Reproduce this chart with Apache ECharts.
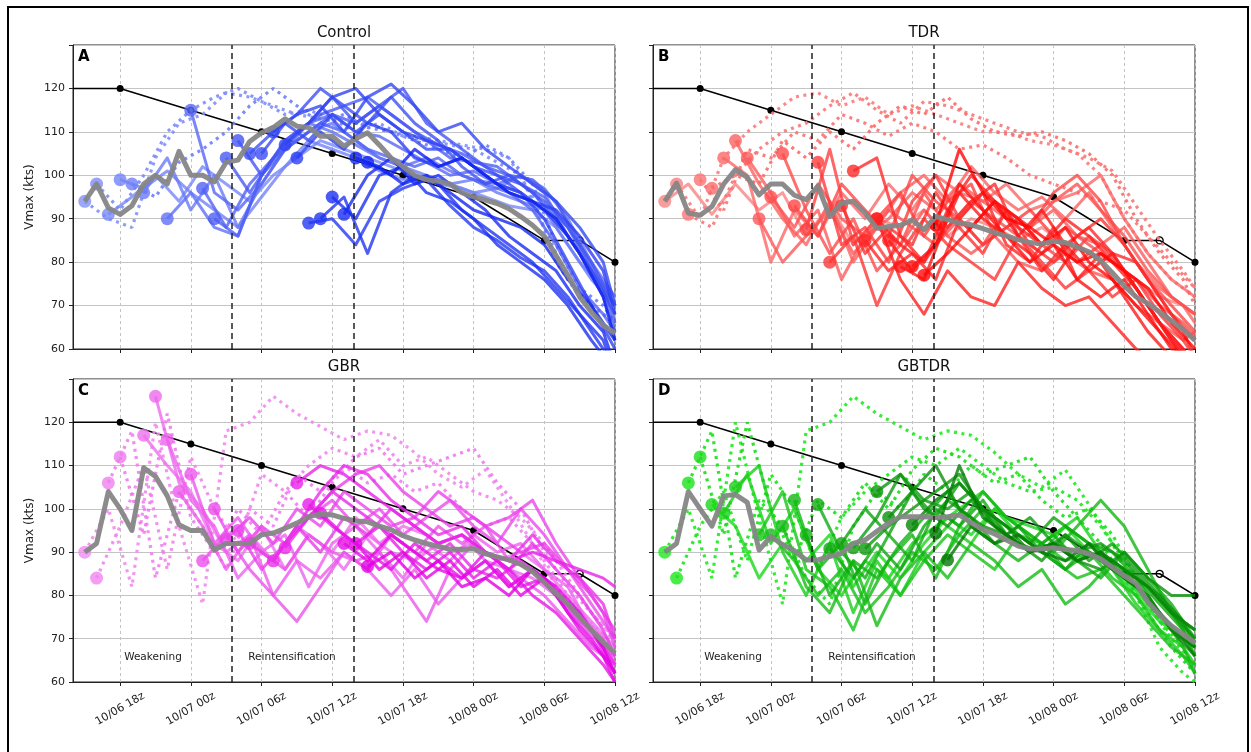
<!DOCTYPE html>
<html>
<head>
<meta charset="utf-8">
<title>Vmax ensembles</title>
<script src="https://cdn.jsdelivr.net/npm/echarts@6/dist/echarts.min.js"></script>
<style>
    html, body { margin: 0; padding: 0; background: #fff; }
    #chart { width: 1251px; height: 752px; }
</style>
</head>
<body>
<div id="chart"></div>
<script>
// all times are hours since 10/06 00z
var tickHours = [18, 24, 30, 36, 42, 48, 54, 60];
var tickLabels = ['10/06 18z', '10/07 00z', '10/07 06z', '10/07 12z', '10/07 18z', '10/08 00z', '10/08 06z', '10/08 12z'];
var phaseHours = [27.5, 37.8];

// best track
var bestHours = [14, 18, 24, 30, 36, 42, 48, 54, 57, 60];
var bestVmax = [120, 120, 115, 110, 105, 100, 95, 85, 85, 80];

// ensemble mean (hourly)
var meanHours = [15, 16, 17, 18, 19, 20, 21, 22, 23, 24, 25, 26, 27, 28, 29, 30, 31, 32, 33, 34, 35, 36, 37, 38, 39, 40,
    41, 42, 43, 44, 45, 46, 47, 48, 49, 50, 51, 52, 53, 54, 55, 56, 57, 58, 59, 60];
var controlMean = [94, 98, 92.5, 91, 93, 98, 100, 98, 105.5, 100, 100, 98.5, 103, 103.5, 107.8, 109.8, 111, 113, 111.3, 111,
    109, 109, 106.7, 108.4, 109.8, 107, 104, 102, 100, 99, 98.6, 98, 96, 95, 94.3, 93.5, 92.3, 90.5, 88.5, 86,
    81.5, 77, 72, 68.5, 65.5, 63.6];
var tdrMean = [94, 98.2, 91.3, 90.8, 92.8, 98, 101.3, 99.5, 95.5, 98, 98, 95.4, 94.4, 97.5, 90.5, 93.6, 94, 91.3, 87.8, 88.2,
    88.5, 89.7, 87.5, 90.5, 89.8, 89, 88.6, 87.7, 86.8, 86, 85.2, 84.5, 84.2, 84.8, 84.5, 83.5, 82.4, 80.3, 77.5, 74.5,
    72, 70.5, 68.5, 66.5, 64.5, 62];
var gbrMean = [90, 92, 104, 100, 95, 109.5, 107.5, 103, 96.3, 95, 95, 90.5, 92, 92, 92, 94, 94.4, 95.5, 96.7, 98.2,
    98.8, 98.6, 97.8, 97.2, 97, 96, 95.2, 93.8, 92.8, 92, 91.3, 90.7, 90.6, 90.8, 89.6, 88.9, 88.2, 87.2, 85.5, 83,
    80.5, 78, 75, 72, 69.2, 66.7];
var gbtdrMean = [90, 92, 104, 100, 96, 103, 103.3, 101.5, 90.5, 93.6, 91.7, 90.3, 88.2, 88.2, 89, 89.7, 92, 92.8, 94.8, 96.7,
    98.2, 98.2, 98.2, 98, 98.2, 98.6, 96.8, 95.3, 94.2, 92.8, 91.4, 90.7, 90.8, 91, 90.6, 90.4, 89.6, 88.4, 86.5, 84.5,
    82.8, 78.5, 75.5, 73, 71, 69];

// members: init hour, dotted flag, Vmax every 2 h from init (last one at 10/08 12z)
var controlStarts = [15, 16, 17, 18, 19, 20, 22, 24, 25, 26, 27, 28, 29, 30, 31, 32, 33, 34, 35, 36, 37, 38, 39];
var controlDotted = [1, 1, 0, 0, 1, 0, 0, 0, 0, 0, 0, 0, 0, 0, 0, 0, 0, 0, 0, 0, 0, 0, 0];
var controlMembers = [
    [94, 90, 88, 104, 112, 114, 119, 118, 116, 114, 113, 112, 112, 110, 109, 108, 107, 106, 104, 95, 80, 72, 68, 66],
    [98, 92, 100, 110, 115, 118, 120, 117, 114, 115, 113, 110, 112, 109, 108, 107, 106, 103, 100, 88, 76, 70, 66],
    [91, 95, 100, 94, 102, 98, 94, 100, 104, 108, 106, 104, 102, 100, 98, 97, 95, 93, 92, 88, 80, 74, 70],
    [99, 97, 101, 96, 92, 88, 95, 102, 108, 106, 104, 101, 99, 100, 98, 96, 97, 100, 96, 86, 78, 72],
    [98, 95, 103, 106, 110, 116, 120, 116, 112, 114, 111, 110, 108, 106, 104, 107, 104, 98, 84, 74, 70, 66],
    [96, 104, 92, 100, 88, 98, 106, 110, 112, 108, 104, 102, 100, 98, 99, 96, 94, 92, 84, 76, 70],
    [90, 96, 88, 86, 100, 108, 112, 110, 107, 104, 102, 104, 101, 99, 98, 100, 97, 90, 80, 72],
    [115, 96, 92, 98, 106, 112, 114, 110, 109, 106, 103, 100, 101, 98, 96, 92, 86, 78, 70],
    [97, 88, 98, 104, 108, 112, 110, 106, 104, 102, 104, 100, 98, 96, 92, 84, 74, 68, 64],
    [90, 86, 100, 106, 110, 114, 112, 116, 112, 108, 104, 103, 102, 98, 95, 88, 78, 70],
    [104, 96, 104, 110, 114, 116, 118, 114, 110, 107, 105, 102, 100, 99, 94, 84, 74, 66],
    [108, 100, 108, 112, 118, 112, 116, 120, 112, 108, 104, 100, 98, 94, 88, 80, 70],
    [105, 110, 114, 120, 116, 112, 118, 112, 108, 102, 98, 100, 96, 90, 82, 72, 64],
    [105, 112, 108, 114, 110, 114, 110, 106, 106, 102, 100, 96, 92, 86, 78, 68],
    [110, 114, 116, 110, 118, 121, 116, 110, 112, 106, 102, 98, 94, 88, 80, 70],
    [107, 112, 118, 120, 114, 110, 108, 106, 102, 98, 96, 90, 80, 70, 60],
    [104, 110, 106, 112, 110, 104, 102, 104, 100, 96, 94, 92, 86, 78, 68],
    [89, 90, 84, 94, 97, 99, 93, 88, 85, 81, 78, 72, 64, 56],
    [90, 95, 82, 96, 100, 98, 92, 88, 84, 80, 74, 68, 62, 54],
    [95, 90, 100, 102, 96, 94, 90, 84, 80, 76, 70, 62, 55],
    [91, 100, 104, 98, 100, 96, 92, 86, 82, 78, 70, 64, 56],
    [104, 102, 98, 100, 96, 92, 90, 88, 84, 76, 70, 62],
    [103, 100, 106, 102, 104, 100, 96, 94, 90, 82, 72, 62]
];

var tdrStarts = [15, 16, 17, 18, 19, 20, 21, 22, 23, 24, 25, 26, 27, 28, 29, 30, 31, 32, 33, 33, 34, 35, 36, 37, 38];
var tdrDotted = [0, 1, 1, 1, 1, 0, 0, 0, 0, 0, 0, 0, 0, 0, 0, 0, 0, 0, 0, 0, 0, 0, 0, 0, 0];
var tdrMembers = [
    [94, 98, 91, 98, 92, 96, 86, 93, 84, 90, 88, 92, 86, 90, 88, 85, 88, 84, 82, 80, 76, 72, 70, 68],
    [98, 90, 104, 110, 114, 118, 119, 116, 118, 114, 116, 114, 112, 110, 110, 108, 107, 105, 100, 90, 82, 76, 72],
    [91, 88, 100, 106, 110, 112, 116, 119, 115, 112, 117, 116, 114, 112, 110, 109, 106, 104, 101, 93, 85, 78, 74],
    [99, 92, 106, 104, 110, 108, 114, 112, 109, 112, 110, 106, 107, 104, 100, 98, 96, 94, 92, 86, 80, 74],
    [97, 100, 98, 108, 104, 110, 106, 112, 116, 114, 118, 113, 110, 109, 110, 108, 105, 100, 90, 82, 76, 70],
    [104, 100, 80, 92, 86, 96, 90, 98, 92, 100, 96, 94, 98, 92, 94, 96, 100, 90, 82, 76, 72],
    [108, 98, 90, 84, 94, 80, 88, 96, 100, 94, 102, 96, 92, 95, 90, 96, 88, 80, 74, 70, 66],
    [104, 96, 86, 92, 76, 86, 90, 96, 92, 98, 94, 90, 88, 92, 86, 84, 88, 80, 72, 68],
    [90, 80, 86, 92, 82, 88, 84, 92, 86, 82, 86, 80, 78, 82, 78, 76, 70, 66, 62, 64],
    [95, 88, 98, 90, 86, 92, 88, 84, 90, 96, 92, 88, 94, 98, 92, 86, 78, 72, 68],
    [105, 92, 82, 90, 78, 84, 96, 88, 94, 90, 86, 82, 88, 84, 80, 76, 70, 66, 63],
    [93, 86, 98, 92, 86, 100, 94, 90, 84, 92, 88, 96, 100, 94, 84, 76, 70, 64],
    [87.5, 106, 84, 90, 96, 86, 94, 98, 86, 90, 84, 80, 86, 82, 74, 66, 60, 56],
    [103, 84, 88, 80, 94, 100, 90, 84, 88, 92, 86, 80, 84, 78, 70, 62, 56],
    [80, 86, 70, 82, 90, 84, 80, 76, 86, 80, 74, 78, 72, 76, 68, 62, 58],
    [93, 82, 88, 84, 96, 88, 82, 92, 84, 80, 86, 90, 84, 76, 68, 62],
    [101, 104, 86, 80, 88, 94, 98, 86, 78, 84, 88, 82, 80, 72, 64, 58],
    [85, 78, 82, 76, 90, 96, 84, 80, 88, 76, 82, 78, 70, 62, 56],
    [90, 84, 80, 92, 100, 94, 88, 84, 90, 86, 80, 74, 66, 58, 54],
    [90, 76, 68, 78, 72, 70, 80, 74, 70, 72, 66, 60, 56, 52, 50],
    [85, 78, 84, 96, 90, 86, 82, 76, 84, 80, 72, 64, 58, 54],
    [79, 76, 90, 88, 94, 86, 92, 84, 78, 82, 74, 66, 60, 56],
    [79, 84, 98, 92, 86, 80, 84, 76, 72, 76, 68, 60, 56],
    [77, 82, 88, 94, 90, 84, 88, 80, 76, 70, 64, 58, 54],
    [88.6, 106, 96, 90, 88, 84, 80, 82, 78, 74, 66, 60]
];

var gbrStarts = [15, 16, 17, 18, 20, 21, 22, 23, 24, 25, 26, 27, 28, 29, 31, 32, 33, 34, 35, 37, 38, 39];
var gbrDotted = [1, 1, 1, 1, 0, 0, 0, 0, 0, 0, 0, 0, 0, 0, 0, 0, 0, 0, 0, 0, 0, 0];
var gbrMembers = [
    [90, 100, 82, 120, 96, 78, 118, 120, 126, 122, 119, 116, 118, 117, 113, 108, 105, 109, 101, 92, 82, 76, 71, 70],
    [84, 96, 110, 86, 112, 100, 92, 108, 104, 110, 114, 112, 116, 110, 112, 108, 104, 102, 98, 92, 84, 76, 70],
    [106, 118, 84, 104, 96, 86, 100, 96, 108, 104, 110, 106, 108, 104, 106, 100, 96, 98, 92, 84, 76, 70, 66],
    [112, 94, 122, 98, 90, 100, 94, 104, 98, 106, 112, 114, 108, 110, 112, 114, 106, 100, 90, 82, 76, 70],
    [117, 110, 104, 92, 88, 96, 86, 94, 90, 98, 92, 96, 94, 90, 92, 88, 90, 86, 80, 74, 68],
    [126, 106, 100, 90, 94, 88, 96, 92, 86, 94, 90, 88, 92, 94, 88, 86, 84, 80, 76, 70, 64],
    [116, 102, 96, 84, 90, 94, 82, 92, 96, 90, 84, 92, 88, 94, 90, 92, 86, 82, 72, 66],
    [104, 96, 86, 94, 80, 88, 84, 90, 86, 80, 86, 78, 84, 88, 82, 86, 80, 74, 70, 64],
    [108, 92, 98, 90, 86, 94, 90, 88, 90, 82, 74, 86, 92, 88, 84, 80, 74, 68, 64],
    [88, 94, 86, 80, 74, 82, 90, 86, 94, 90, 96, 92, 96, 88, 86, 80, 74, 68, 66],
    [100, 90, 96, 92, 98, 102, 96, 100, 94, 98, 102, 96, 92, 100, 94, 86, 78, 70],
    [93, 98, 92, 100, 96, 104, 100, 96, 98, 104, 100, 96, 98, 102, 92, 84, 76, 68],
    [95, 86, 92, 98, 104, 108, 110, 104, 100, 96, 98, 94, 90, 92, 86, 80, 72],
    [92, 88, 96, 90, 98, 94, 100, 96, 92, 94, 90, 86, 92, 86, 80, 72, 66],
    [88, 96, 104, 110, 108, 102, 98, 94, 96, 90, 88, 94, 88, 84, 78, 70],
    [91, 98, 104, 100, 96, 92, 88, 92, 86, 84, 88, 84, 78, 72, 64],
    [106, 110, 108, 104, 100, 96, 92, 94, 90, 88, 90, 88, 86, 84, 82],
    [101, 96, 92, 96, 90, 86, 90, 84, 88, 82, 84, 78, 72, 62],
    [99, 94, 90, 86, 92, 88, 84, 90, 86, 80, 76, 70, 64, 60],
    [92, 88, 94, 90, 86, 84, 88, 82, 86, 80, 72, 66, 60],
    [92, 86, 90, 84, 88, 82, 86, 80, 84, 76, 70, 62],
    [86.7, 90, 84, 88, 82, 84, 80, 86, 82, 76, 68, 62]
];

var gbtdrStarts = [15, 16, 17, 18, 19, 20, 21, 23, 24, 25, 26, 27, 28, 29, 30, 31, 32, 33, 34, 36, 38, 39];
var gbtdrDotted = [1, 1, 1, 1, 0, 0, 0, 0, 0, 0, 0, 0, 0, 0, 0, 0, 0, 0, 0, 0, 0, 0];
var gbtdrMembers = [
    [90, 100, 84, 120, 98, 78, 118, 120, 126, 122, 119, 116, 118, 117, 113, 108, 105, 109, 101, 92, 80, 68, 62, 60],
    [84, 96, 104, 88, 108, 100, 86, 98, 104, 108, 112, 110, 114, 110, 106, 104, 105, 102, 96, 88, 78, 70, 64],
    [106, 118, 84, 102, 96, 84, 78, 96, 104, 100, 108, 104, 110, 106, 108, 102, 98, 100, 94, 84, 74, 68, 62],
    [112, 94, 120, 100, 88, 102, 98, 106, 100, 109, 114, 112, 108, 110, 112, 104, 98, 92, 84, 76, 68, 62],
    [101, 96, 84, 92, 88, 94, 82, 90, 84, 92, 98, 94, 100, 96, 92, 96, 90, 86, 80, 74, 70, 66],
    [99, 108, 92, 100, 86, 80, 88, 84, 92, 96, 100, 104, 98, 96, 94, 98, 90, 84, 78, 72, 68],
    [105, 110, 90, 80, 92, 76, 88, 80, 90, 96, 92, 100, 94, 90, 96, 92, 86, 78, 72, 68, 64],
    [94, 104, 86, 82, 72, 86, 80, 88, 94, 90, 86, 94, 92, 88, 90, 84, 80, 72, 66, 62],
    [94, 88, 80, 86, 76, 82, 90, 86, 94, 100, 96, 92, 88, 84, 86, 80, 74, 68, 64],
    [96, 82, 76, 88, 73, 84, 90, 84, 92, 88, 82, 86, 78, 82, 88, 84, 76, 68, 62],
    [102, 86, 92, 78, 88, 94, 84, 96, 104, 98, 94, 90, 96, 102, 96, 86, 76, 68],
    [94, 80, 88, 84, 92, 98, 104, 96, 92, 88, 92, 86, 90, 88, 82, 76, 70, 66],
    [101, 90, 84, 94, 88, 100, 96, 102, 94, 90, 94, 88, 84, 90, 84, 78, 70],
    [90.8, 84, 92, 86, 96, 102, 98, 92, 96, 90, 86, 92, 90, 84, 78, 72, 66],
    [92, 100, 94, 104, 98, 106, 100, 96, 92, 98, 94, 90, 86, 82, 76, 70],
    [91, 98, 108, 102, 100, 104, 96, 92, 90, 94, 88, 92, 86, 80, 74, 68],
    [90.8, 96, 100, 104, 108, 100, 94, 98, 92, 90, 92, 88, 82, 76, 70],
    [104, 108, 100, 96, 102, 96, 92, 88, 94, 90, 86, 84, 80, 74, 72],
    [98, 104, 110, 100, 96, 94, 90, 92, 88, 86, 90, 84, 80, 80],
    [96.3, 102, 106, 100, 96, 90, 92, 88, 90, 86, 82, 76, 72],
    [94.4, 110, 98, 94, 90, 92, 88, 90, 84, 80, 72, 66],
    [88.2, 96, 92, 94, 90, 88, 92, 86, 82, 76, 70, 68]
];

var panels = [
    { name: 'Control', letter: 'A', starts: controlStarts, dotted: controlDotted, members: controlMembers, mean: controlMean,
      light: [130, 145, 248], dark: [15, 35, 240] },
    { name: 'TDR', letter: 'B', starts: tdrStarts, dotted: tdrDotted, members: tdrMembers, mean: tdrMean,
      light: [250, 130, 130], dark: [255, 0, 0] },
    { name: 'GBR', letter: 'C', starts: gbrStarts, dotted: gbrDotted, members: gbrMembers, mean: gbrMean,
      light: [240, 140, 240], dark: [228, 0, 228] },
    { name: 'GBTDR', letter: 'D', starts: gbtdrStarts, dotted: gbtdrDotted, members: gbtdrMembers, mean: gbtdrMean,
      light: [30, 235, 30], dark: [5, 120, 5] }
];

var grids = [
    { left: 73, top: 45, width: 542, height: 304 },
    { left: 653, top: 45, width: 542, height: 304 },
    { left: 73, top: 379, width: 542, height: 303 },
    { left: 653, top: 379, width: 542, height: 303 }
];

var FONT = 'DejaVu Sans';

function mix(a, b, t) {
    t = Math.max(0, Math.min(1, t));
    return 'rgb(' + Math.round(a[0] + (b[0] - a[0]) * t) + ',' + Math.round(a[1] + (b[1] - a[1]) * t) + ',' +
        Math.round(a[2] + (b[2] - a[2]) * t) + ')';
}

var xAxes = [], yAxes = [], series = [], graphics = [];

grids.forEach(function (g, k) {
    g.show = true;
    g.borderColor = '#222';
    g.borderWidth = 1;
    g.containLabel = false;

    xAxes.push({
        gridIndex: k, type: 'value', min: 14, max: 60,
        axisLine: { show: true, onZero: false, lineStyle: { color: '#222', width: 1 } },
        axisTick: { show: true, customValues: tickHours, length: 4, lineStyle: { color: '#222' } },
        axisLabel: {
            show: k >= 2, customValues: tickHours, rotate: 30, align: 'center', verticalAlign: 'middle',
            margin: 27, fontSize: 11, color: '#222', fontFamily: FONT,
            formatter: function (v) { var i = tickHours.indexOf(v); return i < 0 ? '' : tickLabels[i]; }
        },
        splitLine: { show: true, lineStyle: { color: '#c4c4c4', type: [3, 3], width: 1 } }
    });
    yAxes.push({
        gridIndex: k, type: 'value', min: 60, max: 130, interval: 10,
        axisLine: { show: true, onZero: false, lineStyle: { color: '#222', width: 1 } },
        axisTick: { show: true, length: 4, lineStyle: { color: '#222' } },
        axisLabel: {
            show: k % 2 === 0, margin: 8, fontSize: 11, color: '#222', fontFamily: FONT,
            formatter: function (v) { return v === 130 ? '' : String(v); }
        },
        splitLine: { show: true, lineStyle: { color: '#c4c4c4', width: 1 } },
        name: k % 2 === 0 ? 'Vmax (kts)' : '', nameLocation: 'middle', nameGap: 37,
        nameTextStyle: { fontSize: 12, color: '#222', fontFamily: FONT }
    });

    var p = panels[k];

    // best track + phase lines
    series.push({
        type: 'line', xAxisIndex: k, yAxisIndex: k, z: 1, silent: true,
        data: bestHours.map(function (h, i) {
            var item = { value: [h, bestVmax[i]] };
            if (i === 0) item.symbol = 'none';
            if (h === 57) item.itemStyle = { color: 'rgba(255,255,255,0)', borderColor: '#000', borderWidth: 1.3 };
            return item;
        }),
        symbol: 'circle', symbolSize: 7, showSymbol: true,
        itemStyle: { color: '#000' },
        lineStyle: { color: '#000', width: 1.6 },
        markLine: {
            silent: true, symbol: 'none', label: { show: false },
            lineStyle: { color: '#222', type: [6, 4], width: 1.5 },
            data: phaseHours.map(function (h) { return { xAxis: h }; })
        }
    });

    // members
    var dots = [];
    p.members.forEach(function (vals, m) {
        var s = p.starts[m];
        var pts = [];
        for (var i = 0; i < vals.length; i++) {
            var h = s + 2 * i;
            if (h >= 60) { pts.push([60, vals[i]]); break; }
            pts.push([h, vals[i]]);
        }
        var col = mix(p.light, p.dark, (s - 15) / 24);
        series.push({
            type: 'line', xAxisIndex: k, yAxisIndex: k, z: 2, silent: true, showSymbol: false,
            data: pts,
            lineStyle: p.dotted[m]
                ? { color: col, width: 3.2, opacity: 0.9, type: [3, 4.5] }
                : { color: col, width: 3, opacity: 0.8, join: 'round' }
        });
        dots.push({ value: [s, vals[0]], itemStyle: { color: col } });
    });
    series.push({
        type: 'scatter', xAxisIndex: k, yAxisIndex: k, z: 3, silent: true,
        symbolSize: 13, itemStyle: { opacity: 0.8 }, data: dots
    });

    // ensemble mean
    series.push({
        type: 'line', xAxisIndex: k, yAxisIndex: k, z: 4, silent: true, showSymbol: false,
        data: meanHours.map(function (h, i) { return [h, p.mean[i]]; }),
        lineStyle: { color: '#868686', width: 5, opacity: 0.95, join: 'round' }
    });

    // titles and panel letters
    graphics.push({
        type: 'text', x: g.left + g.width / 2, y: g.top - 12,
        style: { text: p.name, font: '15px ' + FONT, fill: '#111', align: 'center', verticalAlign: 'middle' }
    });
    graphics.push({
        type: 'text', x: g.left + 5, y: g.top + 12,
        style: { text: p.letter, font: 'bold 15px ' + FONT, fill: '#000', align: 'left', verticalAlign: 'middle' }
    });
    if (k >= 2) {
        graphics.push({
            type: 'text', x: g.left + 80, y: g.top + 278,
            style: { text: 'Weakening', font: '10.5px ' + FONT, fill: '#222', align: 'center', verticalAlign: 'middle' }
        });
        graphics.push({
            type: 'text', x: g.left + 219, y: g.top + 278,
            style: { text: 'Reintensification', font: '10.5px ' + FONT, fill: '#222', align: 'center', verticalAlign: 'middle' }
        });
    }
});

// figure frame
graphics.push({
    type: 'rect', shape: { x: 8, y: 7, width: 1240, height: 800 },
    style: { fill: 'none', stroke: '#000', lineWidth: 2 }, silent: true
});

var myChart = echarts.init(document.getElementById('chart'), null, { renderer: 'canvas' });
myChart.setOption({
    animation: false,
    backgroundColor: '#fff',
    grid: grids,
    xAxis: xAxes,
    yAxis: yAxes,
    series: series,
    graphic: graphics
});
</script>
</body>
</html>
